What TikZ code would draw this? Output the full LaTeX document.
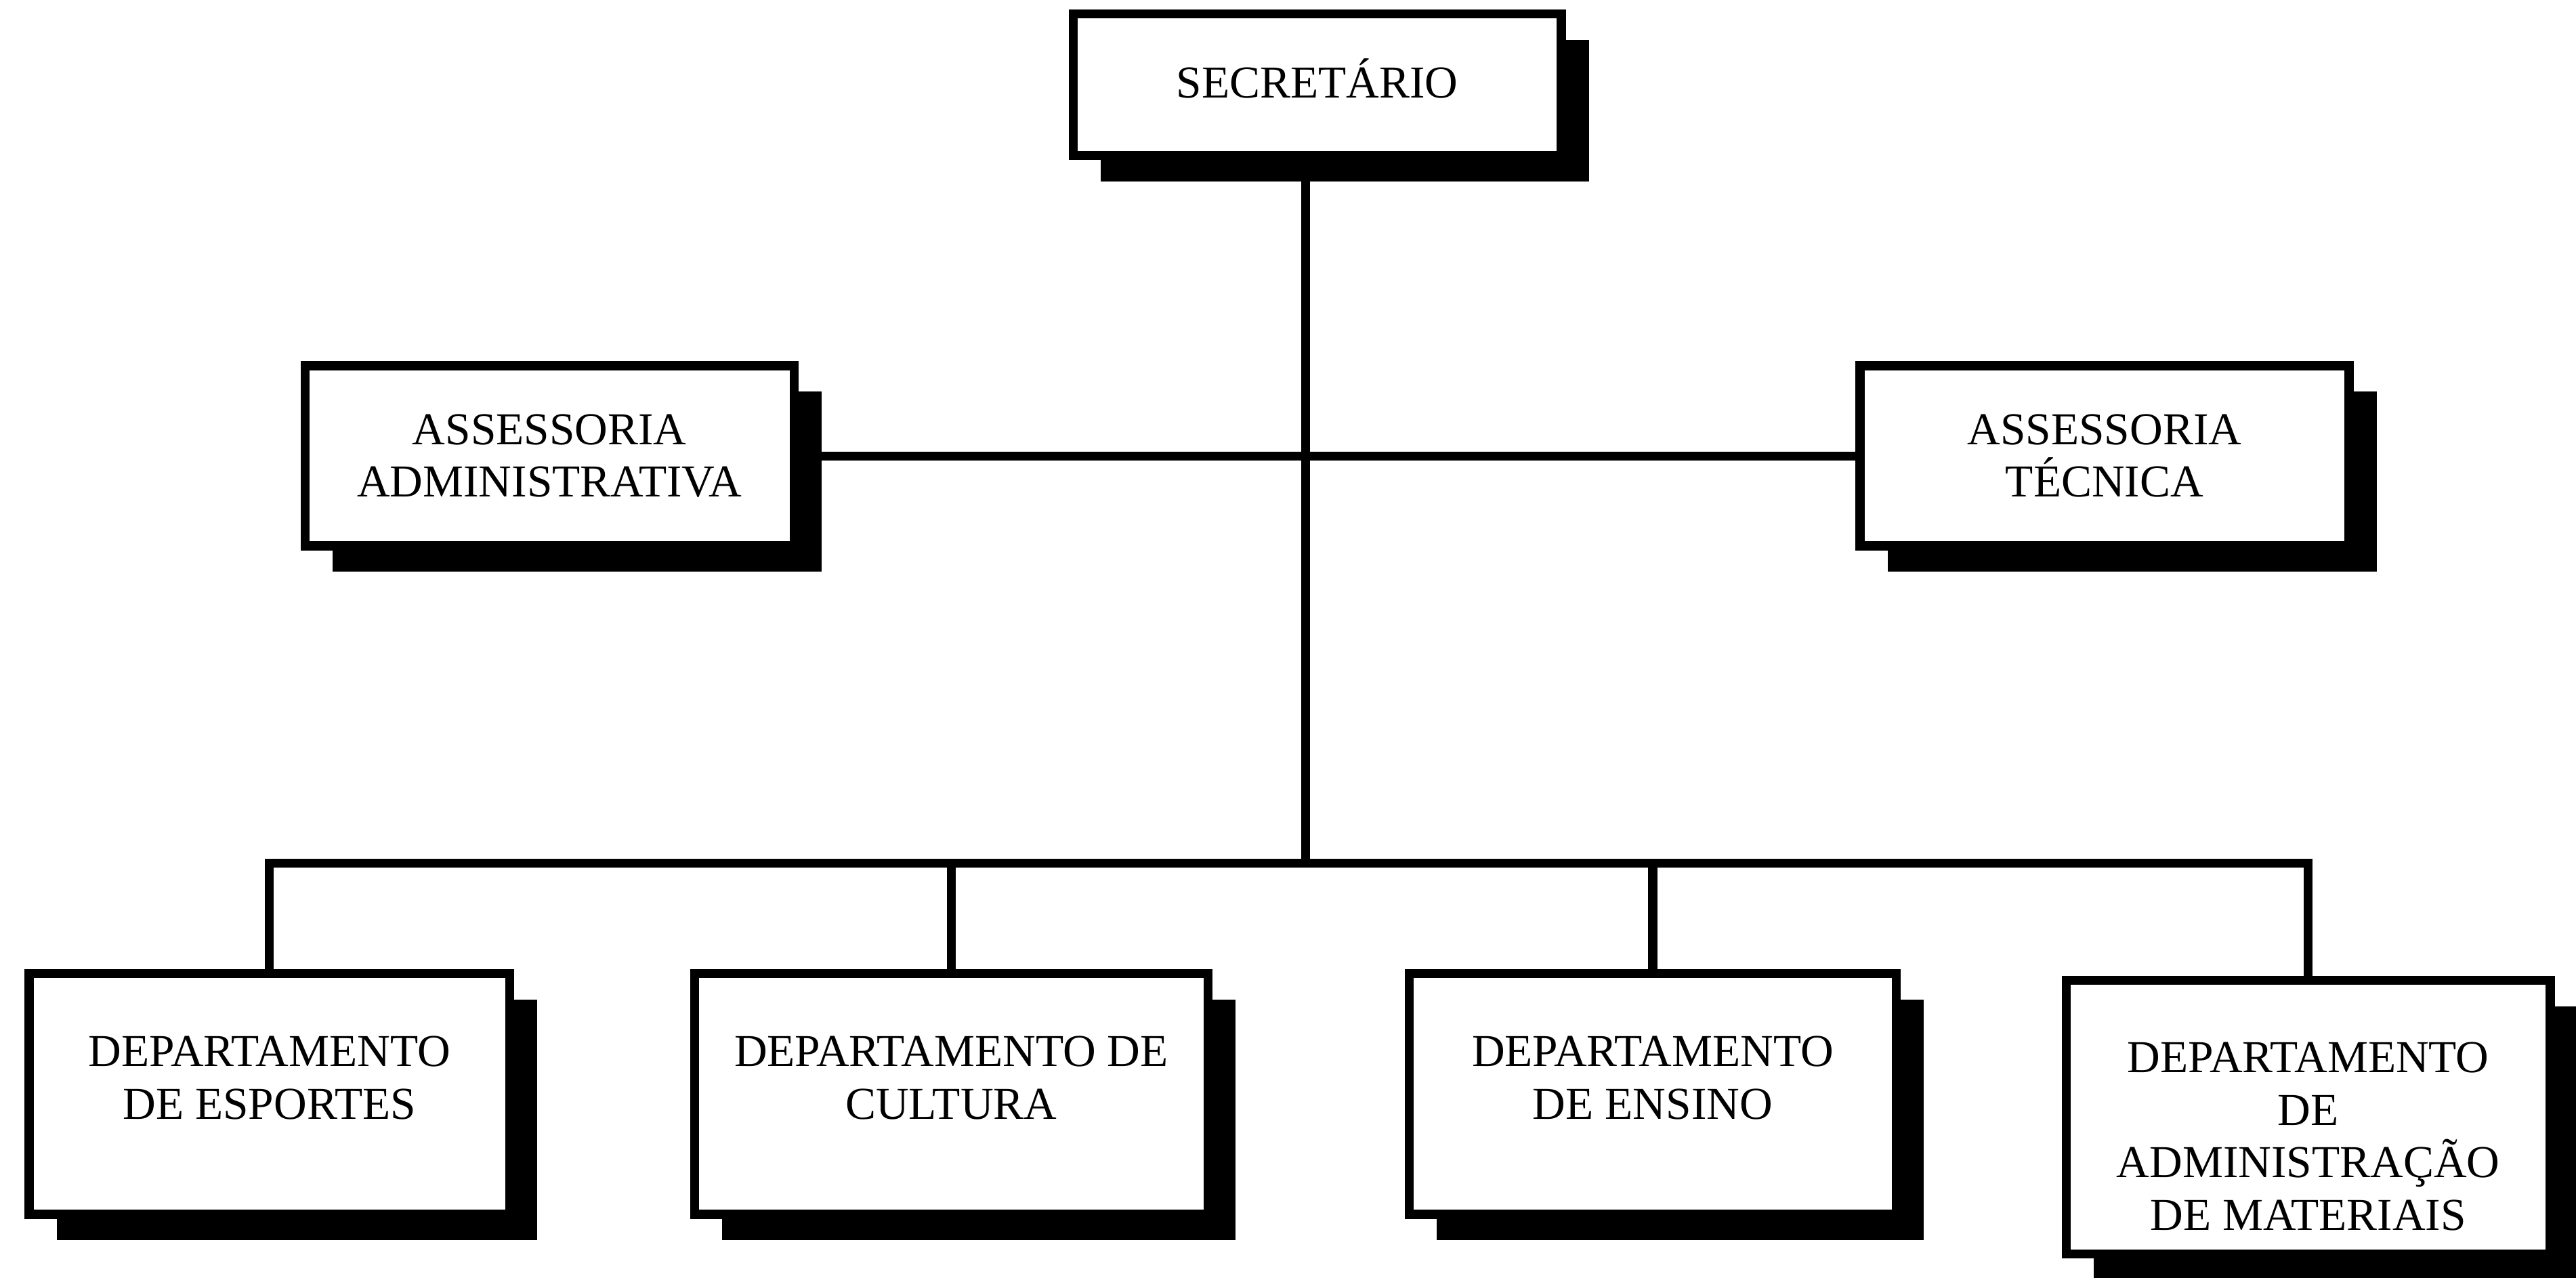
\documentclass[tikz,border=0pt]{standalone}
\usepackage{fontspec}
\setmainfont{Liberation Serif}
\usetikzlibrary{shadows}
\begin{document}
\begin{tikzpicture}[x=0.5pt,y=-0.5pt,
  orgbox/.style={draw=black, line width=2.75pt, fill=white, rectangle, align=center,
    font=\fontsize{13.9pt}{16pt}\selectfont, inner sep=2pt,
    drop shadow={shadow xshift=8.4pt, shadow yshift=-7.9pt, fill=black, opacity=1}},
  link/.style={draw=black, line width=2.7pt}]
\useasboundingbox (0,0) rectangle (1568,778);
\node[orgbox, minimum width=148.5pt, minimum height=43.1pt, text depth=4pt] (sec) at (801.8,51.6) {SECRETÁRIO};
\node[orgbox, minimum width=148.8pt, minimum height=54.8pt] (aa) at (334.5,277.5) {ASSESSORIA\\ADMINISTRATIVA};
\node[orgbox, minimum width=148.8pt, minimum height=54.8pt] (at) at (1281,277.5) {ASSESSORIA\\TÉCNICA};
\node[orgbox, minimum width=146.3pt, minimum height=73.3pt, text depth=10pt] (d1) at (164,666) {DEPARTAMENTO\\DE ESPORTES};
\node[orgbox, minimum width=156.3pt, minimum height=73.3pt, text depth=10pt] (d2) at (579,666) {DEPARTAMENTO DE\\CULTURA};
\node[orgbox, minimum width=148.3pt, minimum height=73.3pt, text depth=10pt] (d3) at (1006,666) {DEPARTAMENTO\\DE ENSINO};
\node[orgbox, minimum width=147.3pt, minimum height=83.3pt, text height=69pt] (d4) at (1405,680) {DEPARTAMENTO\\DE\\ADMINISTRAÇÃO\\DE MATERIAIS};
\coordinate (bus) at (0,525.5);
\coordinate (trunk) at ([xshift=-3.6pt]sec.south);
\draw[link] (trunk) -- (trunk |- bus);
\draw[link] (aa.east) -- (at.west);
\draw[link] (d1.north) -- (d1.north |- bus) -- (d4.north |- bus) -- (d4.north);
\draw[link] (d2.north) -- (d2.north |- bus);
\draw[link] (d3.north) -- (d3.north |- bus);
\end{tikzpicture}
\end{document}
